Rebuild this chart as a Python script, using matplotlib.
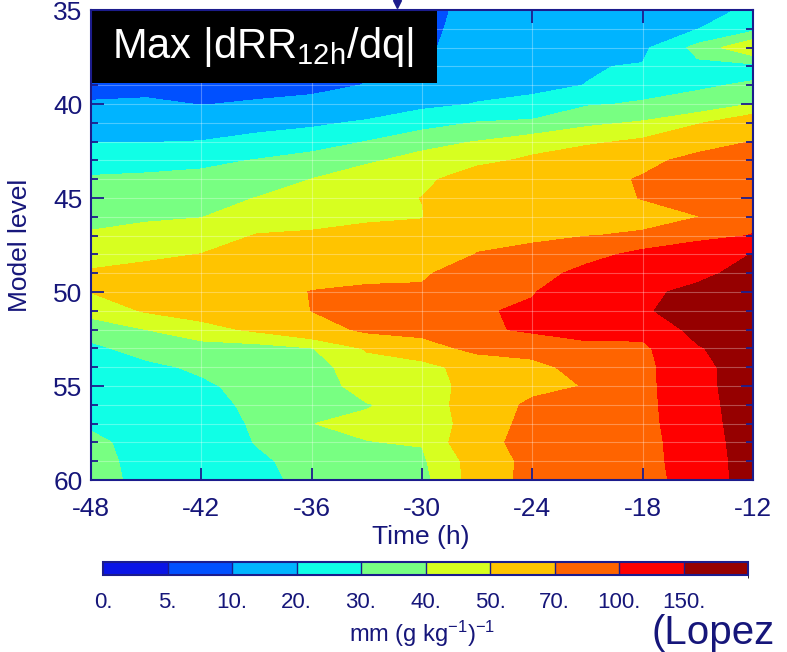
import matplotlib.pyplot as plt
import numpy as np
from matplotlib.colors import BoundaryNorm, ListedColormap
from matplotlib.lines import Line2D
from matplotlib.patches import Rectangle
from matplotlib.ticker import MultipleLocator

plt.rcParams["font.family"] = ["Liberation Sans", "DejaVu Sans"]
plt.rcParams["mathtext.default"] = "regular"
plt.rcParams["axes.unicode_minus"] = False

NAVY = "#16167a"
EDGE = "#1c1c8c"

time_h = [-48, -45, -42, -39, -36, -33, -30, -27, -24, -21, -18, -15, -12]
model_level = list(range(35, 61))

# max |dRR12h/dq| for model levels 35..60, one list per forecast time
sens_m48 = [3, 4, 6, 7, 8, 10.5, 15, 19.5, 26, 31, 34, 37.5, 41, 45, 51.5, 50.2,
            44, 34, 28, 25, 24, 25, 28, 33, 34, 34]
sens_m45 = [3.5, 5, 6.5, 8, 9, 10.5, 16, 19.7, 26, 32, 36, 39, 42.5, 47.5, 54, 57,
            51, 40, 33.5, 28, 25, 24, 24, 25, 26, 27]
sens_m42 = [4, 5.5, 7, 8, 9, 9.9, 16, 20.2, 27.5, 33, 36.5, 39.7, 45, 50.2, 56, 59,
            55, 46, 36, 31.5, 28.5, 26, 24, 23, 23, 23]
sens_m39 = [4.5, 6, 7.5, 8.5, 9, 10.3, 17, 22.5, 30.5, 35, 40.2, 45, 50.5, 56, 60, 63,
            60, 52, 36, 34, 33, 32.5, 31.5, 30.5, 28, 27]
sens_m36 = [5, 6.5, 8, 9, 9.3, 10.7, 18.7, 24, 35, 40.1, 44, 48, 50.8, 57, 64, 70.5,
            70.2, 60, 39.5, 36, 35, 35, 39.9, 35, 34, 33]
sens_m33 = [6, 7.5, 8.5, 9.5, 10.1, 15, 21, 30.2, 39.2, 43, 46, 48.5, 53, 60, 67, 72,
            76, 74, 51, 46, 44, 39.5, 41.5, 39.8, 37, 36]
sens_m30 = [8, 8, 8.5, 9, 12, 18, 25, 38, 42, 47, 50.2, 49.5, 54, 60, 68, 72,
            76, 76, 62, 44, 44, 43, 42, 40.5, 38.5, 37]
sens_m27 = [12, 13, 14, 15.5, 17.5, 20.3, 30.5, 40.2, 47, 57, 60, 63, 66, 70.5, 78, 86,
            96, 94, 75, 58, 55, 57, 56, 60, 55, 55]
sens_m24 = [13, 14, 15.5, 17, 19, 21, 32, 45, 52, 56, 60, 64, 68, 73, 85, 97.5,
            106, 105, 78, 64, 64, 74, 78, 80, 77, 78]
sens_m21 = [14, 15.5, 17, 19.6, 20.1, 29, 38, 48, 58, 62, 65, 67, 69.5, 88, 112, 130,
            128, 112, 92, 78, 71, 83, 82, 82, 82, 82]
sens_m18 = [15, 16.5, 18, 20.5, 26, 31, 41, 52, 64, 72, 70.5, 65, 72, 110, 130, 142,
            146, 114, 91, 88, 88, 88, 88, 88, 90, 90]
sens_m15 = [18, 19.8, 33, 28, 29, 32.5, 49, 60, 77, 80, 78, 69.5, 92, 118, 140, 160,
            165, 165, 146, 135, 134, 130, 126, 120, 115, 112]
sens_m12 = [21, 27, 49.5, 27, 31, 40.3, 58, 70.5, 78, 84, 88, 92, 101, 152, 165, 175,
            180, 180, 178, 178, 178, 178, 178, 178, 178, 178]

band_edges = [0, 5, 10, 20, 30, 40, 50, 70, 100, 150, 1000]
band_labels = ["0.", "5.", "10.", "20.", "30.", "40.", "50.", "70.", "100.", "150."]
band_colors = ["#0a14e6", "#0050ff", "#00b4ff", "#10ffe6", "#78ff82",
               "#d7ff20", "#ffc400", "#ff6400", "#ff0000", "#960000"]

sens = np.column_stack([sens_m48, sens_m45, sens_m42, sens_m39, sens_m36, sens_m33,
                        sens_m30, sens_m27, sens_m24, sens_m21, sens_m18, sens_m15,
                        sens_m12])

cmap = ListedColormap(band_colors)
norm = BoundaryNorm(band_edges, cmap.N)

W, H = 787, 652
fig = plt.figure(figsize=(W / 100, H / 100), dpi=100)
ax = fig.add_axes([91 / W, 1 - 480 / H, 662 / W, 470 / H])

cs = ax.contourf(time_h, model_level, sens, levels=band_edges, cmap=cmap, norm=norm)

ax.set_xlim(-48, -12)
ax.set_ylim(60, 35)
ax.set_xticks(np.arange(-48, -11, 6))
ax.set_yticks(np.arange(35, 61, 5))
ax.yaxis.set_minor_locator(MultipleLocator(1))

ax.tick_params(which="both", direction="in", top=True, right=True,
               color=EDGE, width=1.3, labelsize=19, labelcolor=NAVY)
ax.tick_params(which="major", length=9)
ax.tick_params(which="minor", length=5)
ax.tick_params(axis="x", pad=12)
ax.tick_params(axis="y", pad=6)

ax.grid(which="major", axis="x", color="white", alpha=0.3, lw=0.8)
ax.grid(which="both", axis="y", color="white", alpha=0.3, lw=0.8)

for sp in ax.spines.values():
    sp.set_color(EDGE)
    sp.set_linewidth(1.5)
    sp.set_zorder(5)

# title box
ax.add_patch(Rectangle((0, 1 - 73 / 470), 346 / 662, 73 / 470, transform=ax.transAxes,
                       facecolor="black", edgecolor="none", zorder=3, clip_on=False))
ax.text(21 / 662, 1 - 37 / 470, "Max |dRR$_{12h}$/dq|", transform=ax.transAxes,
        ha="left", va="center", fontsize=30, color="white", zorder=4)

fig.text(421 / W, 1 - 537 / H, "Time (h)", ha="center", va="center",
         fontsize=19, color=NAVY)
fig.text(20 / W, 1 - 245 / H, "Model level", rotation=90, ha="center", va="center",
         fontsize=19, color=NAVY)

# colour bar
cax = fig.add_axes([103 / W, 1 - 575 / H, 645 / W, 13 / H])
cb = fig.colorbar(cs, cax=cax, orientation="horizontal", spacing="uniform",
                  drawedges=True, ticks=band_edges[:-1])
cb.set_ticklabels(band_labels)
cb.ax.tick_params(length=0, labelsize=16, labelcolor=NAVY, pad=12)
cb.outline.set_edgecolor(EDGE)
cb.outline.set_linewidth(1.5)
cb.dividers.set_color(EDGE)
cb.dividers.set_linewidth(1)

fig.text(422 / W, 1 - 634 / H, "mm (g kg$^{-1}$)$^{-1}$", ha="center", va="center",
         fontsize=17, color=NAVY)
fig.text(652 / W, 1 - 644 / H, "(Lopez", ha="left", va="baseline",
         fontsize=29, color=NAVY)

fig.add_artist(Line2D([397 / W], [1 - 4 / H], marker="v", markersize=6, color=EDGE,
                      linestyle="none", transform=fig.transFigure))

fig.savefig("out.png", dpi=100)
